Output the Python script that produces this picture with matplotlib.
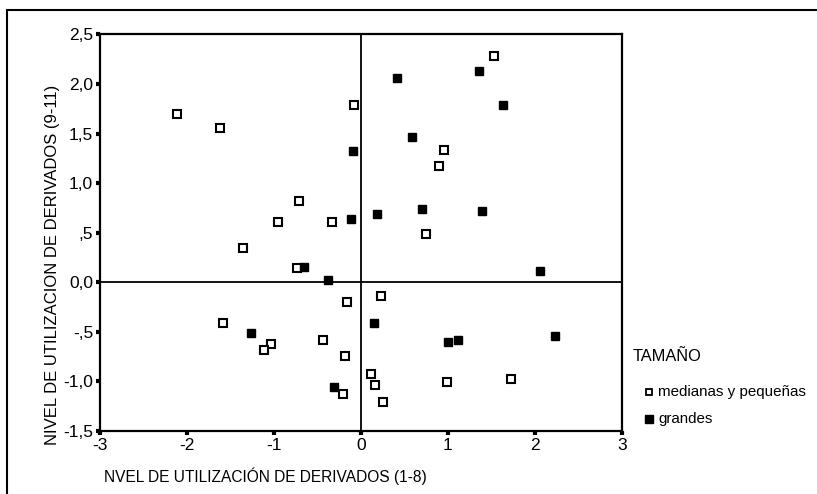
import matplotlib.pyplot as plt
from matplotlib.lines import Line2D
from matplotlib.patches import Rectangle

# medianas y pequeñas (hollow squares)
med_x = [-2.11, -1.62, -0.08, -0.71, -0.95, -0.33, -1.36, -0.73, 1.53, 0.95,
         0.90, 0.75, -0.16, -1.59, -1.04, -1.11, -0.44, -0.18, -0.21, 0.23,
         0.11, 0.16, 0.25, 0.99, 1.72]
med_y = [1.70, 1.56, 1.79, 0.82, 0.61, 0.61, 0.35, 0.14, 2.28, 1.33,
         1.17, 0.49, -0.20, -0.41, -0.62, -0.68, -0.58, -0.74, -1.13, -0.14,
         -0.93, -1.04, -1.21, -1.01, -0.98]

# grandes (filled squares)
gra_x = [-0.09, -0.12, -0.65, -0.38, 1.36, 0.41, 1.63, 0.59, 0.18, 0.70,
         1.39, 2.06, -1.26, -0.31, 0.15, 1.00, 1.11, 2.23]
gra_y = [1.32, 0.64, 0.15, 0.02, 2.13, 2.06, 1.79, 1.47, 0.69, 0.74,
         0.72, 0.11, -0.51, -1.06, -0.41, -0.60, -0.58, -0.54]

x_ticks = [-3, -2, -1, 0, 1, 2, 3]
x_tick_labels = ['-3', '-2', '-1', '0', '1', '2', '3']
y_ticks = [-1.5, -1.0, -0.5, 0.0, 0.5, 1.0, 1.5, 2.0, 2.5]
y_tick_labels = ['-1,5', '-1,0', '-,5', '0,0', ',5', '1,0', '1,5', '2,0', '2,5']

legend_title = 'TAMAÑO'
legend_labels = ['medianas y pequeñas', 'grandes']

W, H = 817, 494
plt.rcParams['font.family'] = ['Liberation Sans', 'DejaVu Sans']

fig = plt.figure(figsize=(W / 100, H / 100), dpi=100)
ax = fig.add_axes([100 / W, 1 - 431 / H, 522 / W, 396.5 / H])

ax.axhline(0, color='black', lw=1.3, zorder=1)
ax.axvline(0, color='black', lw=1.3, zorder=1)

ax.plot(med_x, med_y, 's', ms=5.7, mfc='white', mec='black', mew=1.5,
        ls='none', zorder=3)
ax.plot(gra_x, gra_y, 's', ms=5.5, mfc='black', mec='black', mew=1.0,
        ls='none', zorder=3)

ax.set_xlim(-3, 3)
ax.set_ylim(-1.5, 2.5)
ax.set_xticks(x_ticks, x_tick_labels)
ax.set_yticks(y_ticks, y_tick_labels)
ax.tick_params(direction='out', length=3, width=3, labelsize=12.5, pad=2)
for s in ax.spines.values():
    s.set_linewidth(1.6)

fig.text(265 / W, 1 - 476 / H, 'NVEL DE UTILIZACIÓN DE DERIVADOS (1-8)',
         ha='center', va='center', fontsize=11.2)
fig.text(53 / W, 1 - 265 / H, 'NIVEL DE UTILIZACION DE DERIVADOS (9-11)',
         ha='center', va='center', rotation=90, fontsize=12)

# legend, placed by hand in figure pixels
fig.text(633 / W, 1 - 356 / H, legend_title, ha='left', va='center',
         fontsize=11.8)
marker_styles = [dict(mfc='white', mec='black', mew=1.3, ms=5),
                 dict(mfc='black', mec='black', mew=1.0, ms=6)]
for i, (label, style) in enumerate(zip(legend_labels, marker_styles)):
    yy = 1 - (392 + 27 * i) / H
    fig.add_artist(Line2D([649 / W], [yy], marker='s', ls='none',
                          transform=fig.transFigure, **style))
    fig.text(658 / W, yy, label, ha='left', va='center', fontsize=10.9)

# outer frame of the scanned figure
fig.add_artist(Rectangle((7 / W, -0.1), 1.2, 1 - 10.5 / H + 0.1,
                         transform=fig.transFigure, fill=False,
                         ec='black', lw=1.5))

fig.savefig('out.png', dpi=100)
